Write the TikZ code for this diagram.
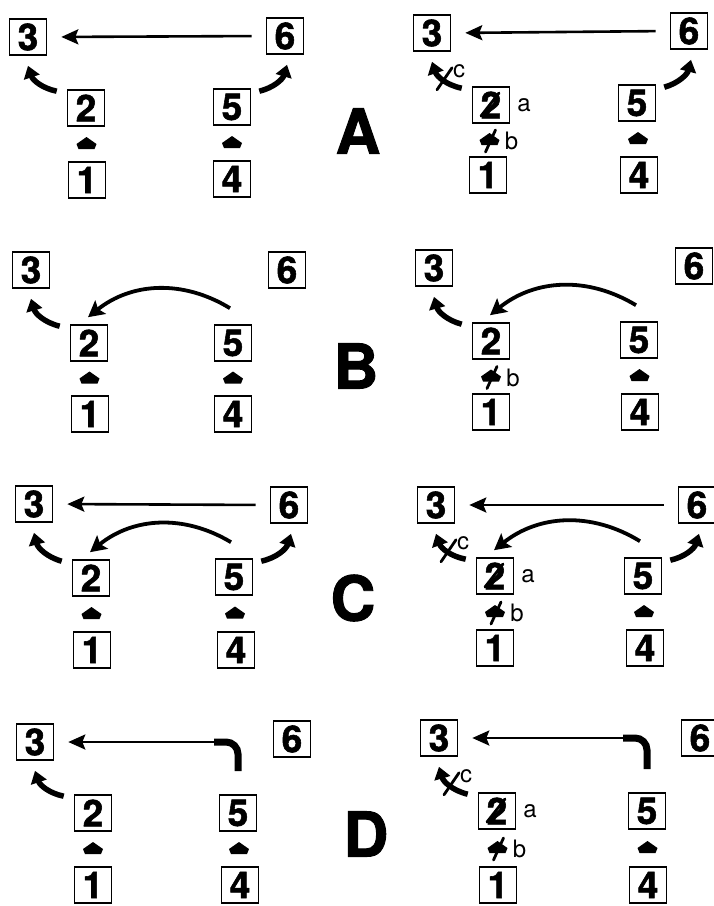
\documentclass[tikz,border=0pt]{standalone}
\usepackage{fontspec}
\setmainfont{TeX Gyre Heros}
\newfontfamily\heavyfont{TeX Gyre Heros}[FakeBold=1.5]
\usetikzlibrary{arrows.meta,calc}
\newcommand\digitfont{\heavyfont\fontsize{37}{37}\selectfont\bfseries}
\newcommand\lblfont{\fontsize{24}{24}\selectfont}
\newcommand\letterfont{\heavyfont\fontsize{62}{62}\selectfont\bfseries}
\tikzset{
  box/.style={draw, line width=1.6pt, minimum width=37pt, minimum height=36pt, inner sep=0pt, font=\digitfont},
  thinarrow/.style={line width=2.6pt, -{Stealth[length=17pt,width=15pt,inset=3pt]}},
  fatarrow/.style={line width=5.5pt, -{Triangle[length=12pt,width=16pt]}},
  arcarrow/.style={line width=3.8pt, -{Stealth[length=16pt,width=17pt,inset=3pt]}},
  lbl/.style={font=\lblfont, inner sep=0pt},
  bigletter/.style={font=\letterfont, inner sep=0pt},
  slash/.style={line width=2.8pt, line cap=round}
}
% panel nodes: prefix, positions of 3,6,2,5,1,4
\newcommand\mkpanel[7]{%
  \node[box] (#1-3) at (#2) {3};
  \node[box] (#1-6) at (#3) {6};
  \node[box] (#1-2) at (#4) {2};
  \node[box] (#1-5) at (#5) {5};
  \node[box] (#1-1) at (#6) {1};
  \node[box] (#1-4) at (#7) {4};}
\newcommand\hArr[1]{\draw[thinarrow, shorten >=14pt, shorten <=14pt] (#1-6.west) -- (#1-3.east);}
\newcommand\twoThree[1]{\draw[fatarrow] ($(#1-2.north west)+(-10,-2)$) to[bend left=30] ($(#1-3.south)+(0,-10)$);}
\newcommand\fiveSix[1]{\draw[fatarrow] ($(#1-5.north east)+(8,-3)$) to[bend right=30] ($(#1-6.south)+(2,-10)$);}
\newcommand\arcFT[1]{\draw[arcarrow] ($(#1-5.north)+(-3,16)$) to[bend right=35] ($(#1-2.north)+(-1,7)$);}
\newcommand\headUp[3]{\fill[shift={($(#1-#2.north)!0.5!(#1-#3.south)$)}] (0,7) -- (10,0) -- (8,-5) -- (-8,-5) -- (-10,0) -- cycle;}
\newcommand\crossHead[1]{%
  \headUp{#1}{1}{2}%
  \draw[slash] ($($(#1-1.north)!0.5!(#1-2.south)$)+(-4,-12)$) -- ($($(#1-1.north)!0.5!(#1-2.south)$)+(6,10)$);
  \node[lbl] at ($($(#1-1.north)!0.5!(#1-2.south)$)+(22,-1)$) {b};}
\newcommand\crossTwo[1]{%
  \draw[slash] ($(#1-2)+(-10,-11)$) -- ($(#1-2)+(8,12)$);
  \node[lbl] at ($(#1-2)+(33,0)$) {a};}
\newcommand\crossC[1]{%
  \draw[slash] ($(#1-3.south)+(5,-38)$) -- ($(#1-3.south)+(20,-16)$);
  \node[lbl] at ($(#1-3)+(27,-38)$) {c};}
\newcommand\elbowArr[1]{%
  \coordinate (#1-e) at ($(#1-5.north)+(0,23)$);
  \draw[line width=7pt, rounded corners=12pt] (#1-e) |- ($(#1-e |- #1-3)+(-24,0)$);
  \draw[thinarrow, shorten >=14pt] ($(#1-e |- #1-3)+(-20,0)$) -- (#1-3.east);}
\begin{document}
\begin{tikzpicture}[x=1pt,y=1pt]
\useasboundingbox (0,0) rectangle (714,-906);
% Row A
\mkpanel{al}{28,-37}{285,-36}{86,-108}{232,-107}{87,-180}{232,-179}
\hArr{al}\twoThree{al}\fiveSix{al}\headUp{al}{1}{2}\headUp{al}{4}{5}
\mkpanel{ar}{432,-33}{689,-31}{491,-105}{637,-103}{488,-175}{639,-175}
\hArr{ar}\twoThree{ar}\crossC{ar}\fiveSix{ar}\crossHead{ar}\headUp{ar}{4}{5}\crossTwo{ar}
\node[bigletter] (LA) at (358,-131) {A};
% Row B
\mkpanel{bl}{31,-270}{287,-270}{89,-343}{233,-343}{90,-414}{233,-414}
\twoThree{bl}\arcFT{bl}\headUp{bl}{1}{2}\headUp{bl}{4}{5}
\mkpanel{br}{434,-268}{694,-266}{491,-341}{639,-340}{491,-412}{640,-412}
\twoThree{br}\arcFT{br}\crossHead{br}\headUp{br}{4}{5}
\node[bigletter] (LB) at (356,-366) {B};
% Row C
\mkpanel{cl}{34,-504}{289,-505}{91,-578}{234,-577}{92,-650}{236,-650}
\hArr{cl}\twoThree{cl}\fiveSix{cl}\arcFT{cl}\headUp{cl}{1}{2}\headUp{cl}{4}{5}
\mkpanel{cr}{436,-505}{697,-505}{495,-576}{643,-576}{495,-648}{645,-648}
\hArr{cr}\twoThree{cr}\crossC{cr}\fiveSix{cr}\arcFT{cr}\crossHead{cr}\headUp{cr}{4}{5}\crossTwo{cr}
\node[bigletter] (LC) at (353,-598) {C};
% Row D
\mkpanel{dl}{35,-742}{292,-739}{93,-813}{238,-813}{93,-885}{240,-885}
\elbowArr{dl}\twoThree{dl}\headUp{dl}{1}{2}\headUp{dl}{4}{5}
\mkpanel{dr}{439,-738}{700,-738}{497,-811}{647,-811}{498,-885}{648,-885}
\elbowArr{dr}\twoThree{dr}\crossC{dr}\crossHead{dr}\headUp{dr}{4}{5}\crossTwo{dr}
\node[bigletter] (LD) at (366,-834) {D};
\end{tikzpicture}
\end{document}
